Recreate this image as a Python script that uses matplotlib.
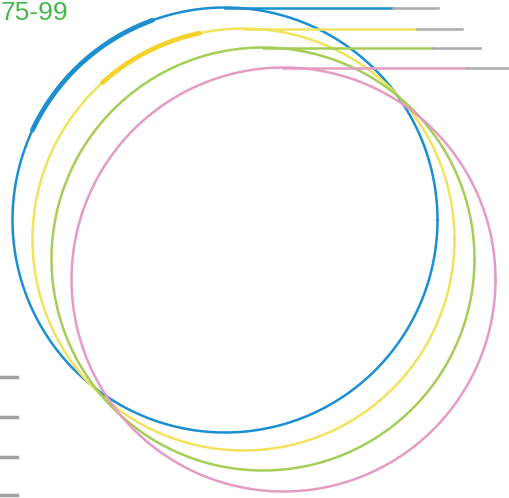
import numpy as np
import matplotlib
matplotlib.use("Agg")
import matplotlib.pyplot as plt

# Data (pixel coordinates of the original graphic)
series = ["blue", "yellow", "green", "pink"]
center_x = [225, 243.5, 263, 283.5]
center_y = [220, 239.5, 259, 279.5]
radius = [212.5, 211, 211.5, 212]
color_end = [393, 417, 433, 467]
gray_end = [438, 462, 480, 508]
colors = ["#1b8fd0", "#f1e35e", "#a6cd57", "#e69cc2"]
label = "75-99"
mark_y = [377, 417, 457, 495]

fig = plt.figure(figsize=(5.09, 4.98), dpi=100)
ax = fig.add_axes([0, 0, 1, 1])
ax.set_xlim(0, 509)
ax.set_ylim(498, 0)
ax.set_aspect("auto")
ax.axis("off")

t = np.linspace(0, 2 * np.pi, 721)
for cx, cy, r, ce, ge, c in zip(center_x, center_y, radius, color_end, gray_end, colors):
    ax.plot(cx + r * np.cos(t), cy + r * np.sin(t), color=c, lw=1.8, solid_capstyle="round")
    top = cy - r
    ax.plot([cx, ce], [top, top], color=c, lw=1.8)
    ax.plot([ce, ge], [top, top], color="#ababab", lw=1.8)

# thicker accent on the upper-left of the blue and yellow arcs
for cx, cy, r, c, a0, a1 in [(center_x[0], center_y[0], radius[0], colors[0], 205, 250),
                             (center_x[1], center_y[1], radius[1], "#f4d22e", 228, 258)]:
    tt = np.radians(np.linspace(a0, a1, 60))
    ax.plot(cx + r * np.cos(tt), cy + r * np.sin(tt), color=c, lw=3.4, solid_capstyle="round")

for y in mark_y:
    ax.plot([0, 17], [y, y], color="#a0a0a0", lw=2.5)

ax.text(1, 1, label, color="#45b649", fontsize=19, family="Liberation Sans",
        ha="left", va="top")

fig.savefig("out.png", dpi=100)
